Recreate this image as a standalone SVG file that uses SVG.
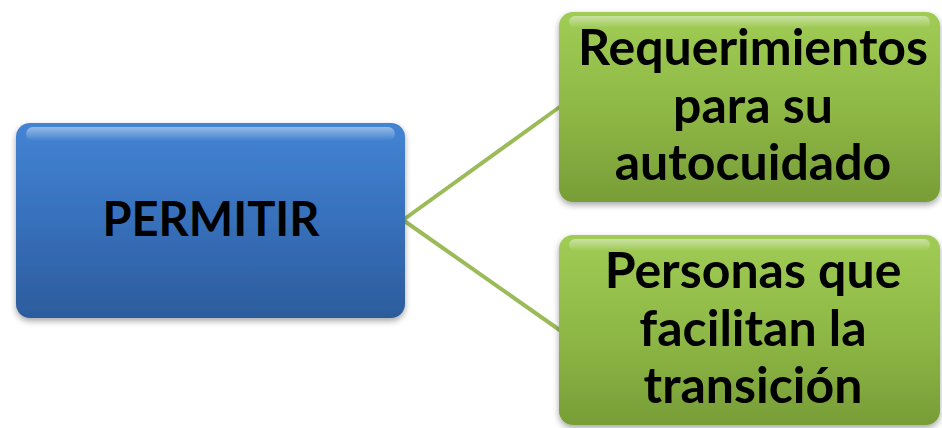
<svg xmlns="http://www.w3.org/2000/svg" width="942" height="428" viewBox="0 0 942 428">
<style>
.lbl{font-family:"Lato","Open Sans","Liberation Sans",sans-serif;font-weight:bold;fill:#000;text-anchor:middle}
.conn{stroke:#9bbb59;stroke-width:4;fill:none}
</style>
<defs>
<linearGradient id="gb" x1="0" y1="0" x2="0" y2="1">
<stop offset="0" stop-color="#4384d4"/>
<stop offset="0.5" stop-color="#3770bb"/>
<stop offset="1" stop-color="#2c5c9c"/>
</linearGradient>
<linearGradient id="gg" x1="0" y1="0" x2="0" y2="1">
<stop offset="0" stop-color="#a0cc55"/>
<stop offset="0.5" stop-color="#8fb946"/>
<stop offset="1" stop-color="#789d37"/>
</linearGradient>
<linearGradient id="hl" x1="0" y1="0" x2="0" y2="1">
<stop offset="0" stop-color="#fff" stop-opacity="0.45"/>
<stop offset="1" stop-color="#fff" stop-opacity="0"/>
</linearGradient>
<filter id="sh" x="-10%" y="-10%" width="120%" height="130%">
<feDropShadow dx="0" dy="3" stdDeviation="3" flood-color="#000" flood-opacity="0.35"/>
</filter>
</defs>
<g id="connectors">
<line class="conn" x1="403" y1="220" x2="561" y2="106"/>
<line class="conn" x1="403" y1="220" x2="561" y2="331"/>
</g>
<g id="node-permitir">
<rect x="16" y="123" width="389" height="195" rx="14" fill="url(#gb)" filter="url(#sh)"/>
<rect x="26" y="127" width="369" height="14" rx="7" fill="url(#hl)"/>
<text class="lbl" x="211" y="236" font-size="47">PERMITIR</text>
</g>
<g id="node-requerimientos">
<rect x="559" y="12" width="381" height="190" rx="14" fill="url(#gg)" filter="url(#sh)"/>
<rect x="569" y="16" width="361" height="12" rx="6" fill="url(#hl)"/>
<text class="lbl" x="753" y="65" font-size="50">Requerimientos</text>
<text class="lbl" x="753" y="123" font-size="50">para su</text>
<text class="lbl" x="753" y="180" font-size="50">autocuidado</text>
</g>
<g id="node-personas">
<rect x="559" y="235" width="381" height="190" rx="14" fill="url(#gg)" filter="url(#sh)"/>
<rect x="569" y="239" width="361" height="12" rx="6" fill="url(#hl)"/>
<text class="lbl" x="753" y="288" font-size="50">Personas que</text>
<text class="lbl" x="753" y="346" font-size="50">facilitan la</text>
<text class="lbl" x="753" y="403" font-size="50">transición</text>
</g>
</svg>
